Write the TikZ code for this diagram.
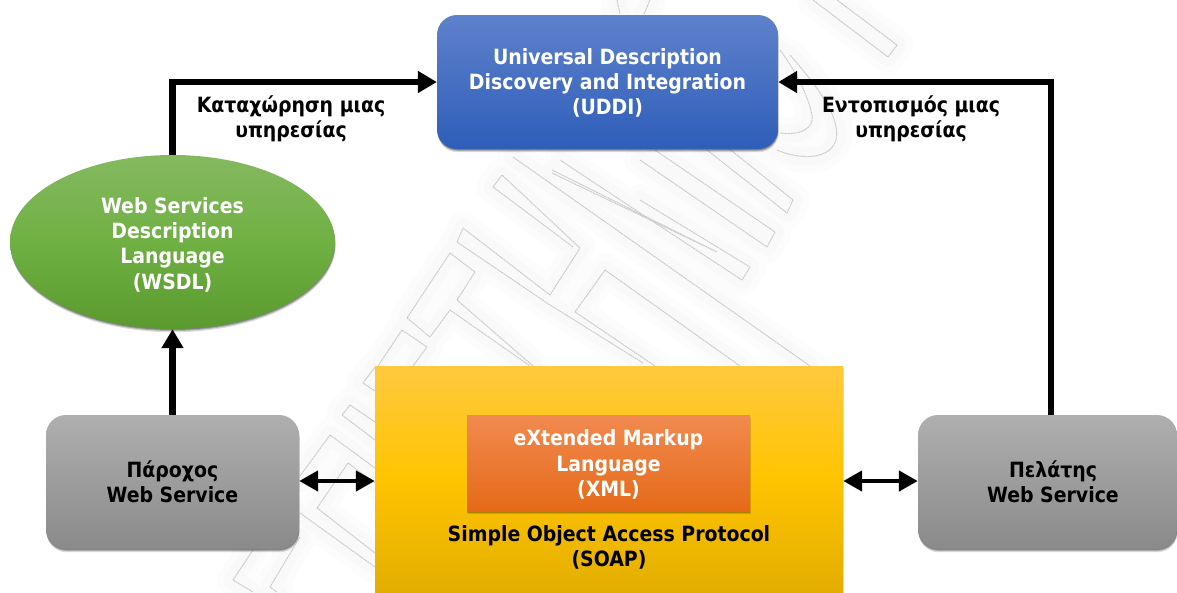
\documentclass[tikz,border=0pt]{standalone}
\usepackage{fontspec}
\setmainfont{DejaVu Sans Condensed}
\usetikzlibrary{arrows.meta,shapes.geometric,shadows,calc}
\definecolor{uddiTop}{HTML}{5F81CC}
\definecolor{uddiBot}{HTML}{2E5EB9}
\definecolor{wsdlTop}{HTML}{85B960}
\definecolor{wsdlMid}{HTML}{6FB043}
\definecolor{wsdlBot}{HTML}{5A9A2E}
\definecolor{greyTop}{HTML}{AFAFAF}
\definecolor{greyBot}{HTML}{8A8A8A}
\definecolor{soapTop}{HTML}{FFC93F}
\definecolor{soapMid}{HTML}{FFC400}
\definecolor{soapBot}{HTML}{E3AE00}
\definecolor{xmlTop}{HTML}{F18A50}
\definecolor{xmlBot}{HTML}{E56A18}
\tikzset{
  softshadow/.style={
    drop shadow={shadow xshift=0.6pt,shadow yshift=-3.2pt,opacity=.14,fill=black},
    drop shadow={shadow xshift=0.4pt,shadow yshift=-2pt,opacity=.2,fill=black},
    drop shadow={shadow xshift=0.2pt,shadow yshift=-1pt,opacity=.25,fill=black}},
  txt/.style={font=\bfseries\fontsize{21}{25.3}\selectfont,align=center,inner sep=0pt},
  white txt/.style={txt,text=white},
  black txt/.style={txt,text=black},
  roundbox/.style={rounded corners=20pt,inner sep=0pt,softshadow},
  squarebox/.style={inner sep=0pt,softshadow},
  conn/.style={line width=6.4pt,-{Triangle[length=19pt,width=21pt]},black},
  twoway/.style={line width=4.6pt,{Triangle[length=19pt,width=20pt]}-{Triangle[length=19pt,width=20pt]},black},
  wm/.style={draw=black!20,line width=1pt,dash pattern=on 2pt off 0.6pt,line join=round},
  wmhaloA/.style={draw=black!1.2,line width=32pt,line cap=round,line join=round},
  wmhaloB/.style={draw=black!2.4,line width=18pt,line cap=round,line join=round}
}
\newcommand{\wmarkpaths}[1]{%
  \draw[#1] (493,187)--(502,175)--(580,248)--(550,295)--(463,228)--(457,242)--(547,303)--(643,363);
  \draw[#1] (493,187)--(573,247);
  \draw[#1] (450,253)--(475,272)--(457,300)--(533,366);
  \draw[#1] (450,253)--(407,318)--(430,337)--(450,310)--(530,366);
  \draw[#1] (402,330)--(427,347)--(413,366);
  \draw[#1] (402,330)--(378,366);
  \draw[#1] (605,270)--(575,312)--(655,366);
  \draw[#1] (605,270)--(740,366);
  \draw[#1] (513,157)--(810,366);
  \draw[#1] (552,170)--(717,252)--(552,173);
  \draw[#1] (640,200)--(750,267)--(742,280)--(640,213)--(560,160);
  \draw[#1] (775,232)--(767,247)--(640,160);
  \draw[#1] (775,232)--(655,150);
  \draw[#1] (793,200)--(787,213)--(707,150);
  \draw[#1] (793,200)--(727,147);
  \draw[#1] (897,45)--(888,57)--(813,0);
  \draw[#1] (897,45)--(837,0);
  \draw[#1] (780,133) .. controls (800,136) and (815,128) .. (812,115) .. controls (808,95) and (795,70) .. (780,50);
  \draw[#1] (777,150) .. controls (800,160) and (830,160) .. (836,140) .. controls (840,120) and (825,95) .. (790,55);
  \draw[#1] (617,0)--(620,14);
  \draw[#1] (644,14)--(650,0);
  \draw[#1] (330,435)--(300,476);
  \draw[#1] (330,435)--(375,468);
  \draw[#1] (348,463)--(317,508)--(375,553);
  \draw[#1] (348,463)--(375,483);
  \draw[#1] (300,513)--(375,567);
  \draw[#1] (253,550)--(233,580)--(253,592);
  \draw[#1] (300,537)--(270,587)--(277,592);
  \draw[#1] (350,405)--(342,415)--(375,440);
  \draw[#1] (350,405)--(375,422);
  \draw[#1] (375,367)--(363,383)--(375,391);
}
\begin{document}
\begin{tikzpicture}[x=1pt,y=-1pt]
\useasboundingbox (0,0) rectangle (1177,592);
\fill[white] (0,0) rectangle (1177,592);
\begin{scope}
\clip (0,0) rectangle (1177,592);
\wmarkpaths{wmhaloA}
\wmarkpaths{wmhaloB}
\wmarkpaths{wm}

\node[roundbox,minimum width=341pt,minimum height=134pt,top color=uddiTop,bottom color=uddiBot] (uddi) at (607.5,82) {};
\node[white txt] (uddilabel) at (607.5,83) {Universal Description\\Discovery and Integration\\(UDDI)};

\node[ellipse,inner sep=0pt,softshadow,minimum width=325pt,minimum height=174pt,top color=wsdlTop,bottom color=wsdlBot,middle color=wsdlMid] (wsdl) at (172.5,242) {};
\node[white txt] (wsdllabel) at (172.5,244.5) {Web Services\\Description\\Language\\(WSDL)};

\node[roundbox,minimum width=253pt,minimum height=134pt,top color=greyTop,bottom color=greyBot] (provider) at (172.5,482) {};
\node[black txt] (providerlabel) at (172.5,482) {Πάροχος\\Web Service};

\node[roundbox,minimum width=259pt,minimum height=134pt,top color=greyTop,bottom color=greyBot] (client) at (1047.5,482) {};
\node[black txt] (clientlabel) at (1053,482) {Πελάτης\\Web Service};

\node[squarebox,minimum width=468pt,minimum height=226pt,top color=soapTop,bottom color=soapBot,middle color=soapMid] (soap) at (609,479) {};
\node[squarebox,minimum width=283pt,minimum height=96pt,top color=xmlTop,bottom color=xmlBot] (xml) at (608.5,463) {};
\node[white txt] (xmllabel) at (608.5,464.5) {eXtended Markup\\Language\\(XML)};
\node[black txt] (soaplabel) at (609,547.5) {Simple Object Access Protocol\\(SOAP)};

\node[black txt] (reglabel) at (291,118.5) {Καταχώρηση μιας\\υπηρεσίας};
\node[black txt] (findlabel) at (911,118.5) {Εντοπισμός μιας\\υπηρεσίας};

\coordinate (clienttop) at (1051,415);
\draw[conn] (provider.north) -- (wsdl.south);
\draw[conn] (wsdl.north) |- (uddi.west);
\draw[conn] (clienttop) |- (uddi.east);
\draw[twoway] (provider.east |- 0,481) -- (soap.west |- 0,481);
\draw[twoway] (soap.east |- 0,481) -- (client.west |- 0,481);
\end{scope}
\end{tikzpicture}
\end{document}
